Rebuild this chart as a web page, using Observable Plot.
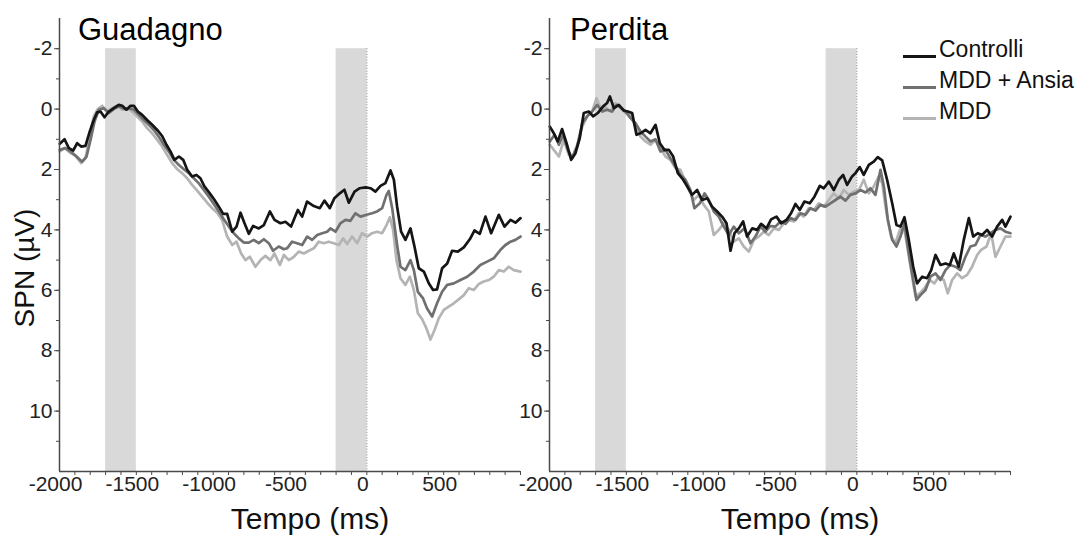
<!DOCTYPE html>
<html>
<head>
<meta charset="utf-8">
<script src="https://cdn.jsdelivr.net/npm/d3@7"></script>
<script src="https://cdn.jsdelivr.net/npm/@observablehq/plot@0.6"></script>
<style>
  body { margin: 0; background: #fff; }
  #wrap { position: relative; width: 1087px; height: 535px; overflow: hidden; background: #fff;
          font-family: "Liberation Sans", Arial, Helvetica, sans-serif; }
  .panel { position: absolute; top: 0; }
  .title { position: absolute; top: 14px; font-size: 31px; line-height: 31px; color: #000; white-space: nowrap; }
  .ylab { position: absolute; left: 25px; top: 268px; font-size: 28px; line-height: 28px; color: #111;
          white-space: nowrap; transform: translate(-50%, -50%) rotate(-90deg); }
  .legend { position: absolute; left: 903px; top: 34px; }
  .item { position: relative; height: 31px; font-size: 23px; line-height: 31px; color: #111; white-space: nowrap; }
  .item .sw { position: absolute; left: 0; top: 21px; width: 33px; height: 3px; }
  .item .lb { position: absolute; left: 36px; top: 0; }
</style>
</head>
<body>
<div id="wrap"></div>
<script>
// ---------- data ----------
const panelTitles = ["Guadagno", "Perdita"];
const seriesNames = ["Controlli", "MDD + Ansia", "MDD"];
const seriesColors = ["#151515", "#707070", "#b4b4b4"];
const xLabel = "Tempo (ms)";
const yLabel = "SPN (µV)";
const xDomain = [-2000, 1000];
const yDomain = [-3, 12];
const xTicks = [-2000, -1500, -1000, -500, 0, 500];
const xMinor = [-1900,-1800,-1700,-1600,-1500,-1400,-1300,-1200,-1100,-1000,-900,-800,-700,-600,-500,-400,-300,-200,-100,0,100,200,300,400,500,600,700,800,900,1000];
const yTicks = [-2, 0, 2, 4, 6, 8, 10];
const yMinor = [-2,-1,0,1,2,3,4,5,6,7,8,9,10,11];
const bands = [[-1700, -1500], [-200, 0]];
const bandY = [-2, 12];
const onsetX = [0];

// Guadagno (gain)
const gCtrlT = [-1998,-1967,-1939,-1911,-1885,-1859,-1831,-1803,-1777,-1755,-1733,-1707,-1679,-1647,-1614,-1592,-1564,-1538,-1516,-1490,-1462,-1430,-1397,-1364,-1332,-1304,-1278,-1252,-1223,-1195,-1169,-1137,-1109,-1083,-1057,-1022,-991,-963,-935,-909,-876,-848,-822,-796,-768,-740,-703,-670,-631,-601,-562,-530,-493,-449,-421,-389,-345,-306,-276,-241,-211,-176,-146,-117,-80,-46,-9,24,56,89,121,154,176,197,223,251,284,310,338,371,403,431,457,490,523,555,592,631,670,700,735,772,809,859,896,935,967,1000];
const gCtrlV = [1.15,1.0,1.29,1.37,1.13,1.24,1.22,0.74,0.36,0.11,0.08,0.27,0.08,-0.03,-0.14,-0.11,0.02,-0.11,-0.11,0.08,0.19,0.36,0.52,0.69,0.89,1.18,1.4,1.68,1.57,1.68,2.01,2.23,2.18,2.29,2.56,2.79,3.01,3.23,3.47,3.47,4.06,3.89,3.43,3.78,4.13,3.87,3.95,3.84,3.39,3.67,3.78,3.73,3.89,3.34,3.56,3.06,3.21,3.28,3.03,3.28,2.95,2.79,2.67,3.1,2.73,2.62,2.59,2.62,2.73,2.54,2.45,2.03,2.34,3.23,4.06,4.33,3.95,4.55,5.27,5.38,5.77,5.99,5.97,5.27,5.11,4.69,4.72,4.58,4.31,4.02,4.13,3.56,4.11,3.5,3.89,3.67,3.76,3.61];

const gAnxT = [-1998,-1961,-1929,-1889,-1853,-1824,-1798,-1772,-1744,-1712,-1679,-1647,-1614,-1577,-1549,-1516,-1484,-1451,-1419,-1386,-1354,-1321,-1289,-1256,-1223,-1191,-1159,-1126,-1093,-1061,-1028,-996,-963,-931,-898,-866,-833,-801,-768,-736,-703,-670,-638,-610,-573,-540,-519,-486,-454,-421,-388,-356,-323,-291,-258,-237,-204,-172,-139,-107,-74,-41,-2,34,67,100,128,143,165,197,219,251,284,306,332,366,392,425,457,490,523,566,609,653,696,739,783,826,870,902,935,967,1000];
const gAnxV = [1.35,1.29,1.4,1.57,1.74,1.57,1.02,0.41,0.02,-0.03,0.13,0.0,-0.09,0.0,-0.03,0.02,0.19,0.36,0.52,0.69,0.91,1.18,1.4,1.68,1.85,1.99,2.12,2.29,2.46,2.68,2.9,3.14,3.39,3.65,3.89,4.11,4.28,4.42,4.42,4.33,4.44,4.31,4.44,4.69,4.55,4.64,4.61,4.39,4.44,4.5,4.22,4.33,4.17,4.11,4.06,3.95,4.06,3.78,3.67,3.7,3.45,3.56,3.5,3.45,3.39,3.28,2.84,2.71,3.28,4.5,5.22,5.33,5.0,5.33,6.05,6.27,6.6,6.87,6.43,6.05,5.82,5.77,5.66,5.55,5.38,5.16,5.05,4.94,4.66,4.5,4.39,4.33,4.22];

const gMddT = [-1998,-1967,-1933,-1896,-1859,-1831,-1803,-1777,-1751,-1722,-1690,-1657,-1625,-1592,-1560,-1527,-1495,-1462,-1430,-1397,-1364,-1332,-1299,-1267,-1234,-1202,-1169,-1137,-1104,-1072,-1039,-1007,-974,-942,-909,-876,-848,-818,-790,-762,-725,-692,-660,-627,-601,-566,-540,-508,-475,-443,-410,-378,-345,-313,-280,-248,-215,-182,-154,-128,-96,-63,-31,2,34,67,100,128,150,171,193,219,251,280,306,332,360,388,414,440,468,501,533,566,598,631,663,696,729,761,794,826,859,891,924,956,1000];
const gMddV = [1.4,1.29,1.44,1.55,1.79,1.63,0.91,0.24,0.0,-0.11,0.08,-0.03,-0.11,0.02,-0.03,0.08,0.24,0.41,0.63,0.8,1.02,1.24,1.52,1.79,1.99,2.12,2.29,2.51,2.7,2.9,3.1,3.28,3.43,3.67,4.22,4.5,4.39,4.78,5.0,4.89,5.22,5.0,4.86,5.0,4.78,5.16,4.83,5.0,4.89,4.72,4.78,4.69,4.61,4.39,4.44,4.39,4.44,4.5,4.28,4.47,4.22,4.44,4.11,4.22,4.11,4.06,4.11,3.84,3.58,4.0,5.0,5.6,5.82,5.55,5.99,6.76,6.96,7.26,7.63,7.32,6.93,6.65,6.54,6.43,6.3,6.16,5.93,5.99,5.79,5.71,5.66,5.55,5.33,5.38,5.22,5.33,5.38];

// Perdita (loss)
const pCtrlT = [-1998,-1972,-1946,-1918,-1889,-1859,-1831,-1803,-1777,-1744,-1716,-1686,-1651,-1625,-1607,-1581,-1549,-1516,-1490,-1462,-1434,-1408,-1375,-1343,-1310,-1282,-1252,-1223,-1195,-1165,-1130,-1104,-1072,-1039,-1007,-974,-942,-909,-877,-848,-822,-796,-768,-740,-714,-681,-649,-623,-588,-558,-523,-493,-458,-428,-399,-371,-341,-306,-276,-241,-215,-182,-150,-117,-89,-63,-31,-9,19,45,78,110,136,165,197,230,258,284,310,338,367,392,425,457,484,512,544,577,605,631,663,696,729,757,787,815,848,880,913,946,967,1000];
const pCtrlV = [0.58,0.8,1.07,0.66,1.13,1.68,1.46,0.96,0.13,0.08,0.24,0.13,-0.09,-0.2,-0.42,-0.03,-0.14,0.05,0.08,0.13,0.85,0.8,0.69,0.8,0.52,1.13,1.35,1.35,1.57,2.12,2.34,2.56,2.84,2.68,3.01,2.95,3.23,3.39,3.56,3.78,4.69,4.11,3.95,3.72,4.22,3.95,4.0,3.8,3.95,3.65,3.56,3.78,3.67,3.45,3.14,3.34,3.06,3.12,2.9,2.54,2.62,2.4,2.68,2.34,2.18,2.51,2.23,2.12,1.92,2.18,1.85,1.74,1.59,1.7,2.34,3.12,3.84,3.89,3.58,4.33,5.22,5.77,5.55,5.6,5.33,4.83,5.16,5.11,5.16,4.78,5.22,4.33,3.61,4.22,4.11,4.17,4.0,4.22,3.89,3.67,3.89,3.56];

const pAnxT = [-1998,-1967,-1939,-1911,-1881,-1853,-1820,-1787,-1755,-1722,-1690,-1657,-1625,-1592,-1564,-1538,-1505,-1473,-1440,-1408,-1375,-1343,-1310,-1278,-1245,-1213,-1180,-1148,-1115,-1083,-1057,-1022,-991,-963,-931,-898,-866,-833,-801,-768,-731,-692,-660,-627,-595,-562,-530,-497,-464,-432,-399,-367,-334,-302,-269,-237,-204,-172,-139,-107,-74,-42,-9,24,56,89,121,154,176,202,230,258,284,310,338,367,388,414,447,479,512,544,577,609,642,674,707,739,772,804,837,870,902,935,967,1000];
const pAnxV = [1.07,0.85,1.18,0.85,1.35,1.63,1.24,0.47,0.24,0.08,-0.14,0.08,0.02,0.08,-0.14,-0.06,0.08,0.3,0.47,0.74,0.91,1.07,1.0,1.4,1.35,1.63,1.9,2.18,2.34,2.68,3.28,3.12,2.79,3.01,3.39,3.56,3.89,4.17,3.89,4.11,3.95,4.44,4.22,3.89,4.06,3.87,3.89,3.72,3.8,3.61,3.67,3.45,3.5,3.28,3.36,3.17,3.23,3.12,3.01,2.9,3.03,2.84,2.79,2.68,2.76,2.62,2.84,2.01,2.56,3.67,4.33,4.55,4.22,3.78,4.78,5.66,6.32,6.16,5.99,5.55,5.44,5.66,5.33,5.16,5.22,5.33,4.89,4.55,4.5,4.17,4.22,4.11,4.0,3.95,4.06,4.11];

const pMddT = [-1998,-1972,-1939,-1907,-1874,-1846,-1816,-1787,-1755,-1722,-1694,-1664,-1636,-1603,-1571,-1538,-1505,-1473,-1440,-1408,-1375,-1343,-1310,-1278,-1245,-1213,-1180,-1148,-1121,-1093,-1061,-1028,-996,-963,-931,-898,-866,-833,-801,-768,-736,-703,-670,-638,-605,-573,-540,-508,-475,-443,-410,-378,-345,-313,-280,-248,-215,-182,-150,-117,-85,-52,-20,13,45,78,110,143,165,193,223,251,280,306,332,360,382,410,440,475,505,533,566,592,620,653,685,718,750,783,809,844,874,902,935,967,1000];
const pMddV = [1.18,1.35,1.57,1.02,1.52,1.52,1.13,0.58,0.24,0.08,-0.36,0.02,-0.06,0.08,-0.2,-0.03,0.13,0.19,0.58,0.91,1.07,1.18,1.02,1.29,1.57,1.68,1.96,2.01,2.34,2.68,3.01,2.84,3.17,3.39,4.17,4.0,3.78,4.0,4.39,4.28,4.55,4.72,4.33,4.22,4.06,4.17,3.95,4.0,3.78,3.67,3.72,3.45,3.56,3.28,3.34,3.12,3.23,3.01,2.79,2.95,2.68,2.84,2.73,2.68,2.34,2.79,2.56,2.23,2.45,3.45,4.22,4.44,4.0,3.89,4.66,5.55,6.21,6.1,5.93,5.66,5.77,5.55,5.66,6.1,5.66,5.44,5.6,5.49,5.22,4.83,4.66,4.55,4.11,4.89,4.55,4.22,4.22];

// ---------- build ----------
const FONT = '"Liberation Sans", Arial, Helvetica, sans-serif';
const axisColor = "#4a4a4a";
const fmt = d => String(d);

function rows(T, V, s) {
  const n = Math.min(T.length, V.length);
  return d3.range(n).map(i => ({t: T[i], v: V[i], s}));
}

// draw light first so black sits on top
const gainData = [...rows(gMddT, gMddV, seriesNames[2]), ...rows(gAnxT, gAnxV, seriesNames[1]), ...rows(gCtrlT, gCtrlV, seriesNames[0])];
const lossData = [...rows(pMddT, pMddV, seriesNames[2]), ...rows(pAnxT, pAnxV, seriesNames[1]), ...rows(pCtrlT, pCtrlV, seriesNames[0])];

function panel(data, width, ml, mr) {
  return Plot.plot({
    width, height: 535,
    marginLeft: ml, marginRight: mr, marginTop: 18, marginBottom: 64,
    style: {background: "transparent", fontFamily: FONT, color: "#1e1e1e", overflow: "visible"},
    x: {domain: xDomain, axis: null},
    y: {domain: yDomain, reverse: true, axis: null},
    color: {domain: seriesNames, range: seriesColors},
    marks: [
      Plot.rect(bands, {x1: d => d[0], x2: d => d[1], y1: () => bandY[0], y2: () => bandY[1], fill: "#d9d9d9"}),
      Plot.ruleX(onsetX, {y1: () => bandY[0], y2: () => bandY[1], stroke: "#8a8a8a", strokeWidth: 1, strokeDasharray: "1.2,1.6"}),
      Plot.line(data, {x: "t", y: "v", z: "s", stroke: "s", strokeWidth: 2.7, strokeLinejoin: "round", strokeLinecap: "round"}),
      Plot.ruleX([xDomain[0]], {stroke: axisColor, strokeWidth: 1.5}),
      Plot.ruleY([yDomain[1]], {stroke: axisColor, strokeWidth: 1.5}),
      Plot.axisY(yMinor, {tickSize: 3, text: null, label: null, stroke: axisColor}),
      Plot.axisY(yTicks, {tickSize: 5, tickPadding: 2, fontSize: 21, label: null, stroke: axisColor, fill: "#222", tickFormat: fmt}),
      Plot.axisX(xMinor, {tickSize: 4, text: null, label: null, stroke: axisColor}),
      Plot.axisX(xTicks, {tickSize: 0, tickPadding: 5, fontSize: 21, label: null, fill: "#222", tickFormat: fmt, dx: -4}),
      Plot.text([xLabel], {frameAnchor: "bottom", dx: 20, dy: 48, fontSize: 30, lineAnchor: "middle", fill: "#111"})
    ]
  });
}

const wrap = document.getElementById("wrap");

const left = document.createElement("div");
left.className = "panel"; left.style.left = "0px"; left.style.width = "530px";
left.appendChild(panel(gainData, 530, 59, 10));
wrap.appendChild(left);

const right = document.createElement("div");
right.className = "panel"; right.style.left = "520px"; right.style.width = "567px";
right.appendChild(panel(lossData, 567, 29, 77));
wrap.appendChild(right);

// y-axis title
const yl = document.createElement("div");
yl.className = "ylab"; yl.textContent = yLabel;
wrap.appendChild(yl);

// titles
[[panelTitles[0], 78], [panelTitles[1], 570]].forEach(([txt, x]) => {
  const d = document.createElement("div");
  d.className = "title"; d.style.left = x + "px"; d.textContent = txt;
  wrap.appendChild(d);
});

// legend
const leg = document.createElement("div");
leg.className = "legend";
seriesNames.forEach((name, i) => {
  const it = document.createElement("div");
  it.className = "item";
  const sw = document.createElement("span");
  sw.className = "sw"; sw.style.background = seriesColors[i];
  const lb = document.createElement("span");
  lb.className = "lb"; lb.textContent = name;
  it.appendChild(sw); it.appendChild(lb);
  leg.appendChild(it);
});
wrap.appendChild(leg);
</script>
</body>
</html>
